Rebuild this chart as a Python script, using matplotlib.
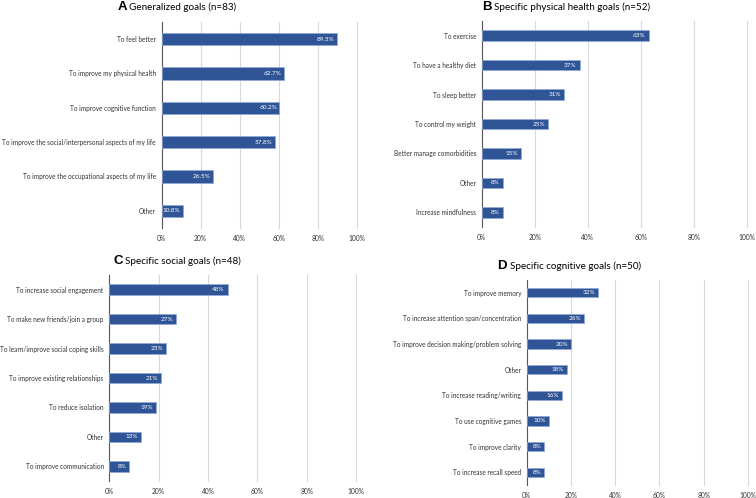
import matplotlib
matplotlib.use("Agg")
import matplotlib.pyplot as plt

# ---- data ----
a_labels = ["To feel better", "To improve my physical health", "To improve cognitive function",
            "To improve the social/interpersonal aspects of my life",
            "To improve the occupational aspects of my life", "Other"]
a_values = [89.5, 62.7, 60.2, 57.8, 26.5, 10.8]
a_text = ["89.5%", "62.7%", "60.2%", "57.8%", "26.5%", "10.8%"]

b_labels = ["To exercise", "To have a healthy diet", "To sleep better", "To control my weight",
            "Better manage comorbidities", "Other", "Increase mindfulness"]
b_values = [63, 37, 31, 25, 15, 8, 8]

c_labels = ["To increase social engagement", "To make new friends/join a group",
            "To learn/improve social coping skills", "To improve existing relationships",
            "To reduce isolation", "Other", "To improve communication"]
c_values = [48, 27, 23, 21, 19, 13, 8]

d_labels = ["To improve memory", "To increase attention span/concentration",
            "To improve decision making/problem solving", "Other", "To increase reading/writing",
            "To use cognitive games", "To improve clarity", "To increase recall speed"]
d_values = [32, 26, 20, 18, 16, 10, 8, 8]

x_ticks = [0, 20, 40, 60, 80, 100]
x_ticklabels = ["0%", "20%", "40%", "60%", "80%", "100%"]

W, H = 756, 498
BAR = "#2F5597"
FONT = "Lato"

fig = plt.figure(figsize=(W / 100, H / 100), dpi=100)


def make_ax(px_left, px_right, px_top, px_bottom):
    return fig.add_axes([px_left / W, 1 - px_bottom / H,
                         (px_right - px_left) / W, (px_bottom - px_top) / H])


def draw(ax, labels, values, texts):
    n = len(labels)
    ys = list(range(n))
    ax.barh(ys, values, height=0.36, color=BAR, edgecolor="#8EA9DB", linewidth=0.5, zorder=3)
    for y, v, t in zip(ys, values, texts):
        ax.text(v - 1.2, y, t, ha="right", va="center", color="white",
                fontsize=4.6, family=FONT, zorder=4)
    ax.set_yticks(ys)
    ax.set_yticklabels(labels, fontsize=4.7, family=FONT, color="#333333")
    ax.set_ylim(n - 0.5, -0.5)
    ax.set_xlim(0, 100)
    ax.set_xticks(x_ticks)
    ax.set_xticklabels(x_ticklabels, fontsize=4.8, family=FONT, color="#333333")
    ax.grid(axis="x", color="#D9D9D9", linewidth=0.8, zorder=0)
    for gl in ax.get_xgridlines():
        gl.set_clip_on(False)
    for s in ["top", "right", "bottom"]:
        ax.spines[s].set_visible(False)
    ax.spines["left"].set_color("#595959")
    ax.spines["left"].set_linewidth(0.8)
    ax.tick_params(axis="y", length=0, pad=4)
    ax.tick_params(axis="x", length=0, pad=5)


def title(letter, text, x_letter_right, x_text, y):
    fig.text(x_letter_right / W, 1 - y / H, letter, ha="right", va="center",
             fontsize=9.5, fontweight="bold", family="Liberation Sans")
    fig.text(x_text / W, 1 - y / H, text, ha="left", va="center",
             fontsize=7.1, family=FONT)


axA = make_ax(161.5, 357.3, 22, 228)
draw(axA, a_labels, a_values, a_text)
title("A", "Generalized goals (n=83)", 127, 129, 7.5)

axB = make_ax(481.7, 747, 21, 227)
draw(axB, b_labels, b_values, [f"{v}%" for v in b_values])
title("B", "Specific physical health goals (n=52)", 491.5, 493.5, 7.5)

axC = make_ax(109.3, 356, 275, 481)
draw(axC, c_labels, c_values, [f"{v}%" for v in c_values])
title("C", "Specific social goals (n=48)", 123, 125, 261)

axD = make_ax(526.7, 748, 280, 485)
draw(axD, d_labels, d_values, [f"{v}%" for v in d_values])
title("D", "Specific cognitive goals (n=50)", 506.5, 509.5, 266)

fig.savefig("out.png", dpi=100, facecolor="white")
